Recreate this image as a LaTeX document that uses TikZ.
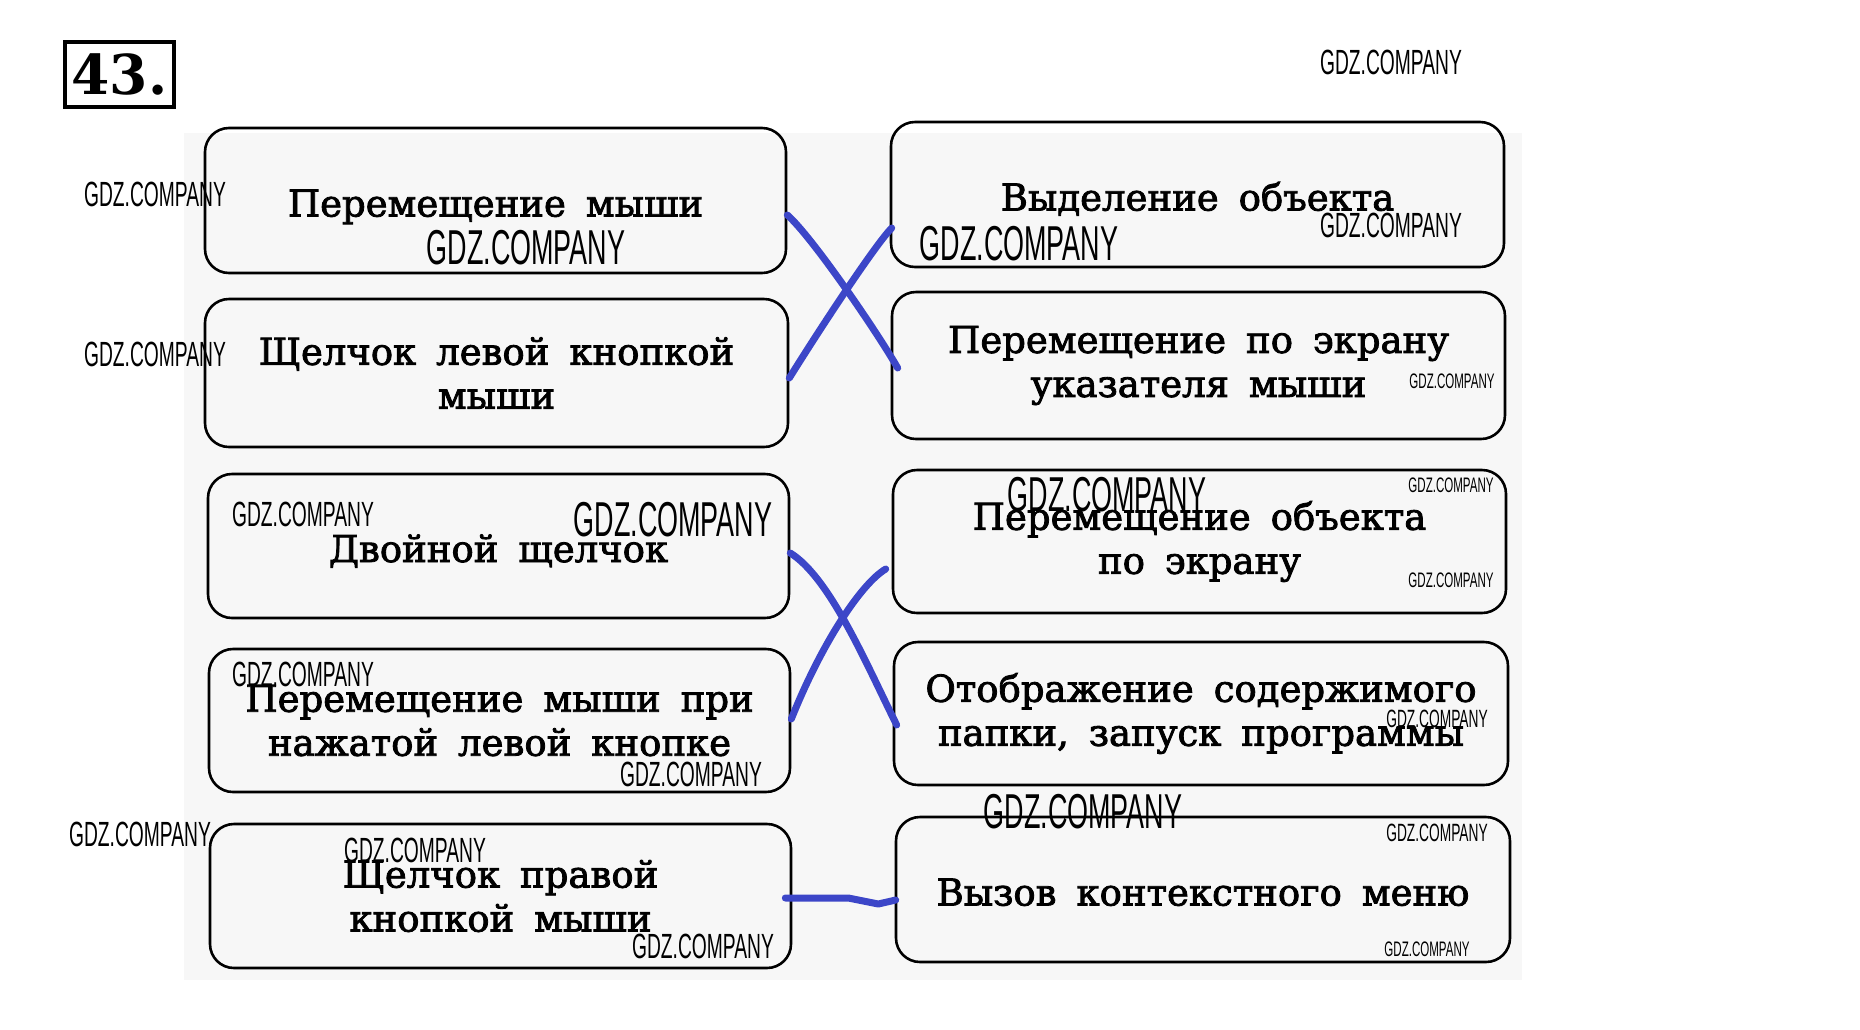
\documentclass[tikz,border=0pt]{standalone}
\usepackage{fontspec}
\setmainfont{DejaVu Serif}
\newfontfamily\boxfont[FakeBold=2.2,WordSpace=1.7]{DejaVu Serif}
\newfontfamily\wmfont[FakeStretch=0.55]{Liberation Sans}
\newfontfamily\numfont{DejaVu Serif}
\usetikzlibrary{calc}
\definecolor{penblue}{HTML}{3C46C8}
\definecolor{paper}{HTML}{F7F7F7}
\tikzset{
  card/.style={draw=black, line width=2.6pt, rounded corners=24pt, align=center,
    inner sep=0pt, font=\boxfont\fontsize{37}{44}\selectfont},
  oneline/.style={text height=41pt, text depth=9pt},
  conn/.style={draw=penblue, line width=7pt, line cap=round, line join=round},
  wmbig/.style={inner sep=0pt, font=\wmfont\fontsize{49}{49}\selectfont},
  wmsmall/.style={inner sep=0pt, font=\wmfont\fontsize{35}{35}\selectfont},
  wmmid/.style={inner sep=0pt, font=\wmfont\fontsize{25}{25}\selectfont},
  wmtiny/.style={inner sep=0pt, font=\wmfont\fontsize{21}{21}\selectfont},
  numbox/.style={draw=black, line width=3.5pt, inner sep=0pt,
    font=\numfont\bfseries\fontsize{55}{55}\selectfont}
}
\begin{document}
\begin{tikzpicture}[x=1pt,y=-1pt]
\useasboundingbox (0,0) rectangle (1860,1029);
\fill[white] (0,0) rectangle (1860,1029);
\fill[paper] (184,133) rectangle (1522,980);

\node[numbox, minimum width=109pt, minimum height=65pt] (num) at (119.5,74.5) {43.};

% left column
\node[card, oneline, minimum width=581pt, minimum height=145pt] (L1) at (495.5,200.5) {Перемещение мыши};
\node[card, minimum width=583pt, minimum height=148pt] (L2) at (496.5,373) {Щелчок левой кнопкой\\мыши};
\node[card, oneline, minimum width=581pt, minimum height=144pt] (L3) at (498.5,546) {Двойной щелчок};
\node[card, minimum width=581pt, minimum height=143pt] (L4) at (499.5,720.5) {Перемещение мыши при\\нажатой левой кнопке};
\node[card, minimum width=581pt, minimum height=144pt] (L5) at (500.5,896) {Щелчок правой\\кнопкой мыши};

% right column
\node[card, oneline, minimum width=613pt, minimum height=145pt] (R1) at (1197.5,194.5) {Выделение объекта};
\node[card, minimum width=613pt, minimum height=147pt] (R2) at (1198.5,365.5) {Перемещение по экрану\\указателя мыши};
\node[card, minimum width=613pt, minimum height=143pt] (R3) at (1199.5,541.5) {Перемещение объекта\\по экрану};
\node[card, minimum width=614pt, minimum height=143pt] (R4) at (1201,713.5) {Отображение содержимого\\папки, запуск программы};
\node[card, oneline, minimum width=614pt, minimum height=145pt] (R5) at (1203,889.5) {Вызов контекстного меню};

% connectors
\draw[conn] ([yshift=-14.5pt]L1.east) .. controls +(25,22) and +(-20,-35) .. ([xshift=7pt,yshift=-2.5pt]R2.west);
\draw[conn] ([yshift=-5pt]L2.east) .. controls +(40,-64) and +(-14,14) .. ([xshift=2pt,yshift=-33.5pt]R1.west);
\draw[conn] ([yshift=-7pt]L3.east) .. controls +(40,25) and +(-30,-60) .. ([xshift=4pt,yshift=-11.5pt]R4.west);
\draw[conn] ([yshift=1.5pt]L4.east) .. controls +(30,-75) and +(-25,15) .. ([xshift=-6pt,yshift=-27.5pt]R3.west);
\draw[conn] ([xshift=-7pt,yshift=-2pt]L5.east) -- ++(63,0) -- ++(30,6) -- ([xshift=1pt,yshift=-10.5pt]R5.west);

% watermarks
\node[wmsmall] (w1) at (1391,62) {GDZ.COMPANY};
\node[wmsmall] (w2) at (155,194) {GDZ.COMPANY};
\node[wmbig] (w3) at (526,248) {GDZ.COMPANY};
\node[wmbig] (w4) at (1019,244) {GDZ.COMPANY};
\node[wmsmall] (w5) at (1391,225) {GDZ.COMPANY};
\node[wmsmall] (w6) at (155,354) {GDZ.COMPANY};
\node[wmtiny] (w7) at (1452,381) {GDZ.COMPANY};
\node[wmsmall] (w8) at (303,514) {GDZ.COMPANY};
\node[wmbig] (w9) at (673,520) {GDZ.COMPANY};
\node[wmbig] (w10) at (1107,495) {GDZ.COMPANY};
\node[wmtiny] (w11) at (1451,485) {GDZ.COMPANY};
\node[wmtiny] (w12) at (1451,580) {GDZ.COMPANY};
\node[wmsmall] (w13) at (303,674) {GDZ.COMPANY};
\node[wmsmall] (w14) at (691,774) {GDZ.COMPANY};
\node[wmmid] (w15) at (1437,719) {GDZ.COMPANY};
\node[wmbig] (w16) at (1083,812) {GDZ.COMPANY};
\node[wmmid] (w17) at (1437,833) {GDZ.COMPANY};
\node[wmsmall] (w18) at (140,834) {GDZ.COMPANY};
\node[wmsmall] (w19) at (415,850) {GDZ.COMPANY};
\node[wmsmall] (w20) at (703,946) {GDZ.COMPANY};
\node[wmtiny] (w21) at (1427,949) {GDZ.COMPANY};
\end{tikzpicture}
\end{document}
